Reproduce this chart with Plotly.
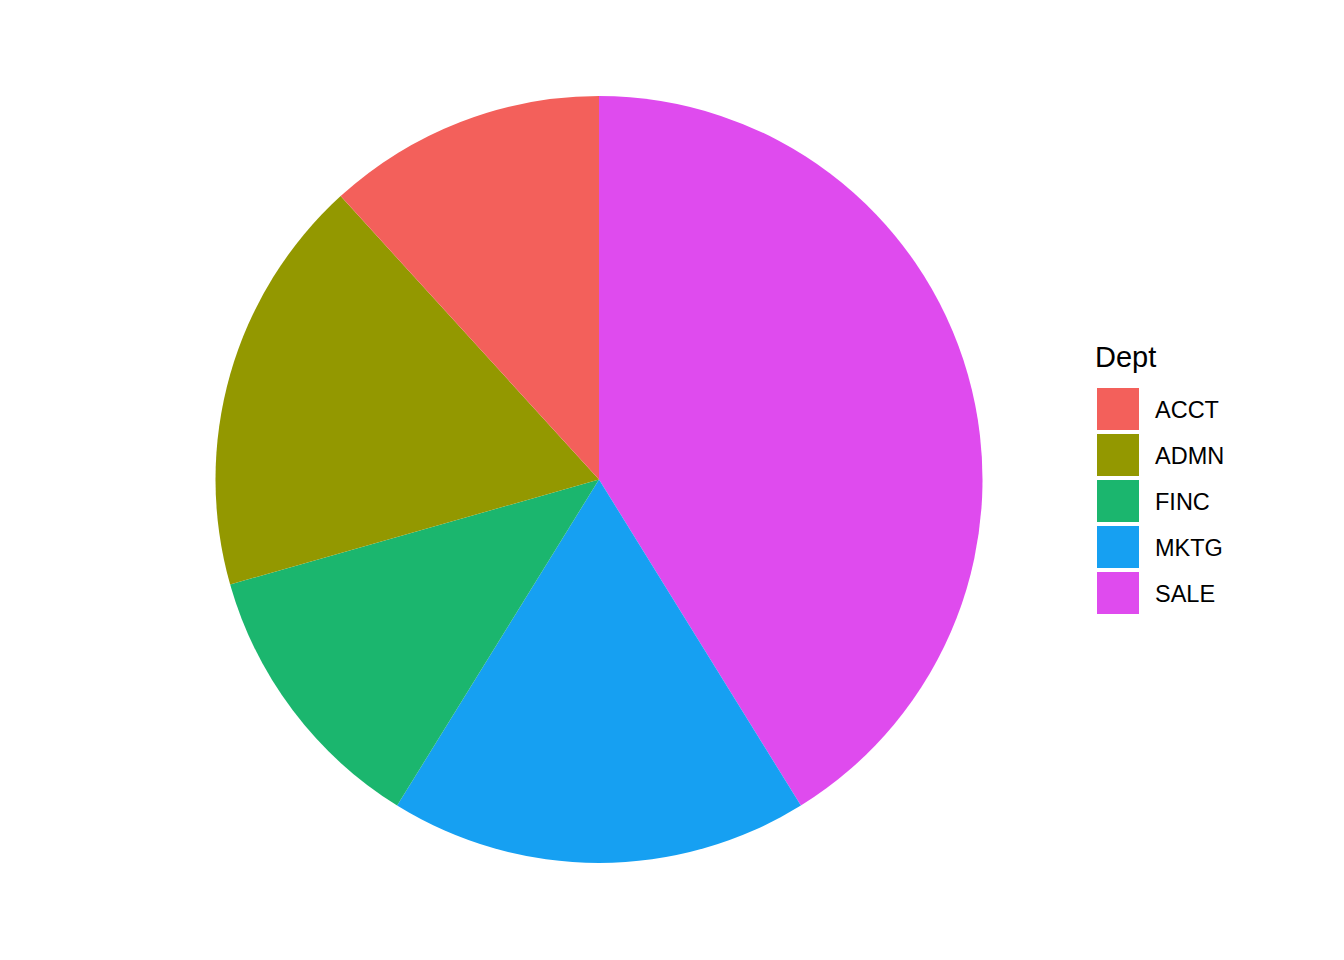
import plotly.graph_objects as go

# Données : effectif par département
depts = ["ACCT", "ADMN", "FINC", "MKTG", "SALE"]
counts = [2, 3, 2, 3, 7]
colors = ["#F3605B", "#939800", "#1BB66E", "#16A0F2", "#DF4BEE"]

# la page html ajoute une marge de 8px autour de la figure
OFF = 8
W, H = 1344 - 2 * OFF, 960 - 2 * OFF


def px(x):
    return (x - OFF) / W


def py(y):
    return 1 - (y - OFF) / H


fig = go.Figure()
# sens horaire depuis midi avec l'ordre inversé = ACCT en haut à gauche comme ggplot
fig.add_trace(go.Pie(labels=depts[::-1], values=counts[::-1], sort=False, direction="clockwise",
                     rotation=0, marker=dict(colors=colors[::-1], line=dict(width=0)),
                     textinfo="none", hoverinfo="label+value", showlegend=False,
                     domain=dict(x=[px(215), px(983)], y=[py(863), py(96)])))

# Légende façon ggplot (carrés 42px)
fig.add_annotation(x=px(1093), y=py(368), xref="paper", yref="paper", text="Dept",
                   showarrow=False, xanchor="left", yanchor="bottom", yshift=-7,
                   font=dict(size=29, color="black"))
for i, (d, c) in enumerate(zip(depts, colors)):
    top = 388 + i * 46
    fig.add_shape(type="rect", xref="paper", yref="paper",
                  x0=px(1097), x1=px(1139), y0=py(top), y1=py(top + 42),
                  fillcolor=c, line=dict(width=0))
    fig.add_annotation(x=px(1153), y=py(top + 22), xref="paper", yref="paper", text=d,
                       showarrow=False, xanchor="left", yanchor="middle",
                       font=dict(size=23.5, color="black"))

fig.update_layout(width=W, height=H, margin=dict(l=0, r=0, t=0, b=0),
                  paper_bgcolor="white", plot_bgcolor="white",
                  font=dict(family="Liberation Sans, Arial, sans-serif"))
fig.write_html("out.html")
